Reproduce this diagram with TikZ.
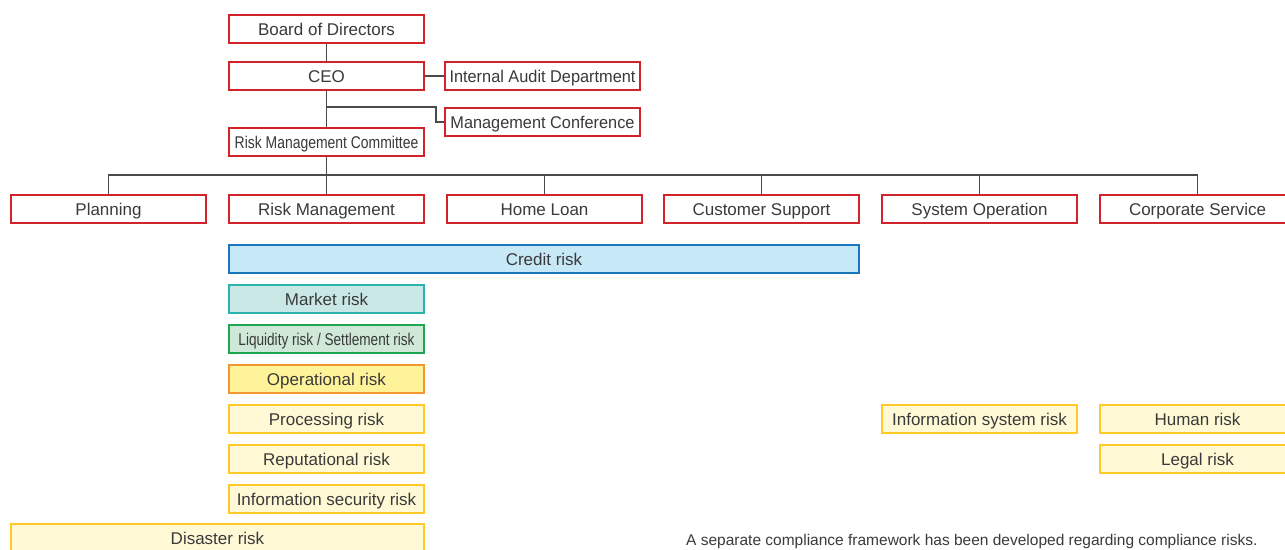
\documentclass[tikz,border=0pt]{standalone}
\usepackage{fontspec}
\setmainfont{Liberation Sans}
\usepackage{tikz}

\definecolor{orgred}{HTML}{D2232A}
\definecolor{linegray}{HTML}{4A4A4A}
\definecolor{txtgray}{HTML}{3A3A3A}
\definecolor{creditfill}{HTML}{C6E8F7}
\definecolor{creditline}{HTML}{1B75BB}
\definecolor{marketfill}{HTML}{C9E7E4}
\definecolor{marketline}{HTML}{2BB3AE}
\definecolor{liqfill}{HTML}{CFE8D8}
\definecolor{liqline}{HTML}{1FA650}
\definecolor{opfill}{HTML}{FFF39A}
\definecolor{opline}{HTML}{F39531}
\definecolor{subfill}{HTML}{FFF9D5}
\definecolor{subline}{HTML}{FFC928}

\begin{document}
\begin{tikzpicture}[x=1pt, y=-1pt,
	every node/.style={font=\fontsize{17}{20}\selectfont, text=txtgray},
	unit/.style={draw=orgred, line width=1.6pt, fill=white, minimum width=195pt, minimum height=28pt, inner sep=0pt, text height=14pt, text depth=2pt},
	riskbox/.style={line width=1.6pt, minimum height=28pt, minimum width=195pt, inner sep=0pt, text height=14pt, text depth=2pt},
	link/.style={draw=linegray, line width=1.2pt}]
	\useasboundingbox (0,0) rectangle (1285,549);
	\clip (0,0) rectangle (1285,549);

	% top of the tree
	\node[unit] (board) at (326.5,29) {Board of Directors};
	\node[unit] (ceo) at (326.5,76) {CEO};
	\node[unit] (audit) at (542.5,76) {\scalebox{0.96}[1]{Internal Audit Department}};
	\node[unit] (mc) at (542.5,122) {\scalebox{0.96}[1]{Management Conference}};
	\node[unit] (rmc) at (326.5,142) {\scalebox{0.82}[1]{Risk Management Committee}};
	\coordinate (mcjoin) at (326.5,107);
	\coordinate (mcbend) at (436,122);
	\coordinate (bus) at (326.5,175);

	% departments
	\node[unit] (planning) at (108.5,209) {Planning};
	\node[unit] (riskmgmt) at (326.5,209) {Risk Management};
	\node[unit] (homeloan) at (544.5,209) {Home Loan};
	\node[unit] (support) at (761.5,209) {Customer Support};
	\node[unit] (sysop) at (979.5,209) {System Operation};
	\node[unit] (corporate) at (1197.5,209) {Corporate Service};

	\draw[link] (board) -- (ceo);
	\draw[link] (ceo) -- (audit);
	\draw[link] (ceo) -- (rmc);
	\draw[link] (mcjoin) -| (mcbend) -- (mc.west);
	\draw[link] (rmc) -- (bus);
	\foreach \d in {planning,riskmgmt,homeloan,support,sysop,corporate}
		\draw[link] (bus) -| (\d.north);

	% risk categories
	\node[riskbox, draw=creditline, fill=creditfill, minimum width=630pt] (credit) at (544,259) {Credit risk};
	\node[riskbox, draw=marketline, fill=marketfill] (market) at (326.5,299) {Market risk};
	\node[riskbox, draw=liqline, fill=liqfill] (liquidity) at (326.5,339) {\scalebox{0.8}[1]{Liquidity risk / Settlement risk}};
	\node[riskbox, draw=opline, fill=opfill] (operational) at (326.5,379) {Operational risk};
	\node[riskbox, draw=subline, fill=subfill] (processing) at (326.5,419) {Processing risk};
	\node[riskbox, draw=subline, fill=subfill] (reputational) at (326.5,459) {Reputational risk};
	\node[riskbox, draw=subline, fill=subfill] (infosec) at (326.5,499) {Information security risk};
	\node[riskbox, draw=subline, fill=subfill, minimum width=413pt] (disaster) at (217.5,538) {Disaster risk};
	\node[riskbox, draw=subline, fill=subfill] (infosys) at (979.5,419) {Information system risk};
	\node[riskbox, draw=subline, fill=subfill] (human) at (1197.5,419) {Human risk};
	\node[riskbox, draw=subline, fill=subfill] (legal) at (1197.5,459) {Legal risk};

	\node[anchor=base west, inner sep=0pt, font=\fontsize{15.5}{18}\selectfont] (note) at (686,545) {A separate compliance framework has been developed regarding compliance risks.};
\end{tikzpicture}
\end{document}
